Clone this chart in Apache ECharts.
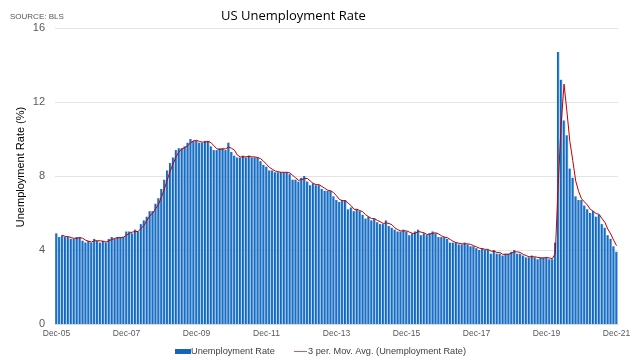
<!DOCTYPE html>
<html><head><meta charset="utf-8">
<script src="https://cdn.jsdelivr.net/npm/echarts@6/dist/echarts.min.js"></script>
<style>html,body{margin:0;padding:0;background:#fff}#c{width:640px;height:360px}</style>
</head><body><div id="c"></div>
<script>
const monthNames = ['Jan','Feb','Mar','Apr','May','Jun','Jul','Aug','Sep','Oct','Nov','Dec'];
const rate2005 = [4.9];
const rate2006 = [4.7,4.8,4.7,4.7,4.6,4.6,4.7,4.7,4.5,4.4,4.5,4.4];
const rate2007 = [4.6,4.5,4.4,4.5,4.4,4.6,4.7,4.6,4.7,4.7,4.7,5.0];
const rate2008 = [5.0,4.9,5.1,5.0,5.4,5.6,5.8,6.1,6.1,6.5,6.8,7.3];
const rate2009 = [7.8,8.3,8.7,9.0,9.4,9.5,9.5,9.6,9.8,10.0,9.9,9.9];
const rate2010 = [9.8,9.8,9.9,9.9,9.6,9.4,9.4,9.5,9.5,9.4,9.8,9.3];
const rate2011 = [9.1,9.0,9.0,9.1,9.0,9.1,9.0,9.0,9.0,8.8,8.6,8.5];
const rate2012 = [8.3,8.3,8.2,8.2,8.2,8.2,8.2,8.1,7.8,7.8,7.7,7.9];
const rate2013 = [8.0,7.7,7.5,7.6,7.5,7.5,7.3,7.2,7.2,7.2,6.9,6.7];
const rate2014 = [6.6,6.7,6.7,6.2,6.3,6.1,6.2,6.1,5.9,5.7,5.8,5.6];
const rate2015 = [5.7,5.5,5.4,5.4,5.6,5.3,5.2,5.1,5.0,5.0,5.1,5.0];
const rate2016 = [4.8,4.9,5.0,5.1,4.8,4.9,4.8,4.9,5.0,4.9,4.7,4.7];
const rate2017 = [4.7,4.6,4.4,4.4,4.4,4.3,4.3,4.4,4.3,4.2,4.2,4.1];
const rate2018 = [4.0,4.1,4.0,4.0,3.8,4.0,3.8,3.8,3.7,3.8,3.8,3.9];
const rate2019 = [4.0,3.8,3.8,3.7,3.6,3.6,3.7,3.6,3.5,3.6,3.6,3.6];
const rate2020 = [3.5,3.5,4.4,14.7,13.2,11.0,10.2,8.4,7.9,6.9,6.7,6.7];
const rate2021 = [6.4,6.2,6.0,6.1,5.8,5.9,5.4,5.2,4.8,4.6,4.2,3.9];

const rates = [].concat(rate2005,rate2006,rate2007,rate2008,rate2009,rate2010,rate2011,rate2012,rate2013,rate2014,rate2015,rate2016,rate2017,rate2018,rate2019,rate2020,rate2021);
const categories = ['Dec-05'];
for (let y = 2006; y <= 2021; y++) {
  for (let m = 0; m < 12; m++) categories.push(monthNames[m] + '-' + String(y).slice(2));
}
const movAvg = rates.map((v,i) => i < 2 ? null : +((rates[i]+rates[i-1]+rates[i-2])/3).toFixed(3));

const chart = echarts.init(document.getElementById('c'), null, {renderer:'canvas'});
chart.setOption({
  animation: false,
  backgroundColor: '#fff',
  title: [
    {text: 'US Unemployment Rate', left: 216, top: 5, textStyle: {fontFamily: 'Open Sans', fontSize: 13, fontWeight: 'normal', color: '#000'}},
    {text: 'SOURCE: BLS', left: 5, top: 8, textStyle: {fontFamily: 'Liberation Sans', fontSize: 8, fontWeight: 'normal', color: '#555'}}
  ],
  legend: [
    {
      top: 342, left: 170, itemWidth: 16, itemHeight: 5, itemGap: 0,
      textStyle: {fontFamily: 'Liberation Sans', fontSize: 9.2, color: '#404040', padding: [0,0,0,-5]},
      data: [{name: 'Unemployment Rate', icon: 'rect', itemStyle: {color: '#1466bb'}}]
    },
    {
      top: 342, left: 289, itemWidth: 13, itemHeight: 5, itemGap: 0,
      textStyle: {fontFamily: 'Liberation Sans', fontSize: 9.2, color: '#404040', padding: [0,0,0,-4]},
      data: [{name: '3 per. Mov. Avg. (Unemployment Rate)', icon: 'path://M0,0L20,0L20,1L0,1Z', itemStyle: {color: '#c00000'}}]
    }
  ],
  graphic: [
    {type: 'text', x: 21, y: 167, rotation: Math.PI/2,
     style: {text: 'Unemployment Rate (%)', fill: '#000', font: '11px "Liberation Sans"', align: 'center', verticalAlign: 'middle'}}
  ],
  grid: {left: 55, right: 22, top: 28, bottom: 36},
  xAxis: {
    type: 'category', data: categories, boundaryGap: true,
    axisLine: {show: true, lineStyle: {color: '#d9d9d9'}},
    axisTick: {show: false},
    axisLabel: {interval: 23, color: '#595959', fontFamily: 'Liberation Sans', fontSize: 8.5, margin: 5}
  },
  yAxis: {
    type: 'value', min: 0, max: 16, interval: 4,
    axisLine: {show: false}, axisTick: {show: false},
    axisLabel: {color: '#595959', fontFamily: 'Liberation Sans', fontSize: 11, margin: 10},
    splitLine: {lineStyle: {color: '#e4e4e4'}}
  },
  series: [
    {
      name: 'Unemployment Rate', type: 'bar', data: rates, barCategoryGap: '15%',
      itemStyle: {color: new echarts.graphic.LinearGradient(0,0,1,0,[
        {offset: 0, color: '#0a5bb0'}, {offset: 0.55, color: '#1c74cc'}, {offset: 1, color: '#8cbbe8'}])}
    },
    {
      name: '3 per. Mov. Avg. (Unemployment Rate)', type: 'line', data: movAvg,
      showSymbol: false, symbol: 'none', lineStyle: {color: '#c00000', width: 1}, itemStyle: {color: '#c00000'}
    }
  ]
});
</script></body></html>
